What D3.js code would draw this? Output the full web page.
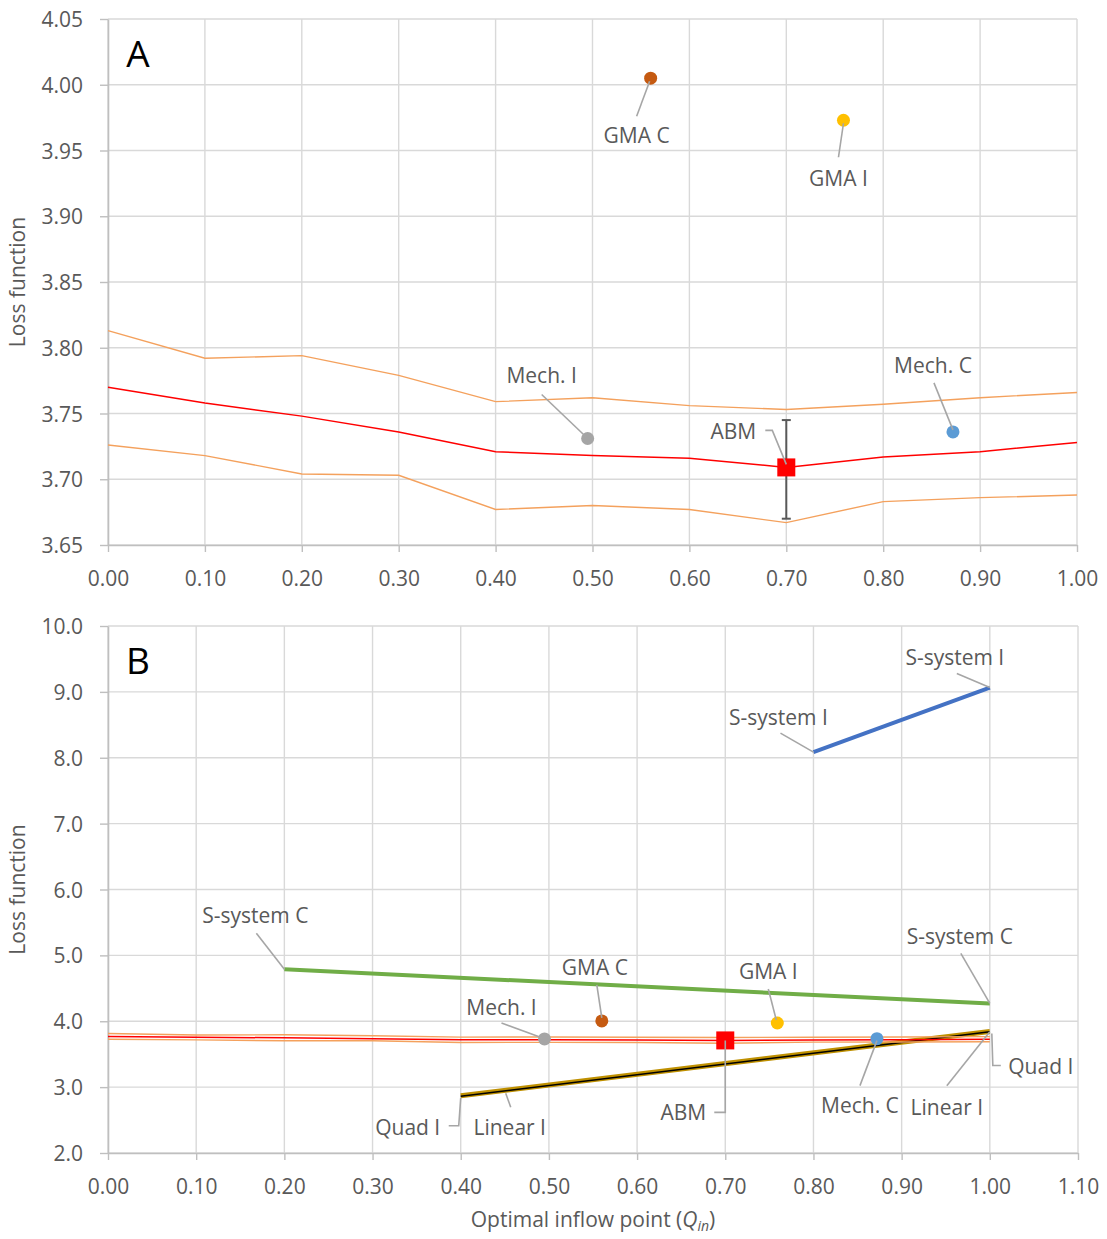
<!DOCTYPE html>
<html>
<head>
<meta charset="utf-8">
<script src="https://cdn.jsdelivr.net/npm/d3@7"></script>
<style>
  body { margin: 0; background: #fff; }
  svg text { font-family: "Open Sans", "Noto Sans", sans-serif; }
</style>
</head>
<body>
<div id="chart"></div>
<script>
/*******************************/
/*          The data           */
/*******************************/
// Inflow points along the x axis
const qPoints = [0.0, 0.1, 0.2, 0.3, 0.4, 0.5, 0.6, 0.7, 0.8, 0.9, 1.0];
// ABM loss (mean) and the upper / lower band
const lossMean  = [3.770, 3.758, 3.748, 3.736, 3.721, 3.718, 3.716, 3.709, 3.717, 3.721, 3.728];
const lossUpper = [3.813, 3.792, 3.794, 3.779, 3.759, 3.762, 3.756, 3.753, 3.757, 3.762, 3.766];
const lossLower = [3.726, 3.718, 3.704, 3.703, 3.677, 3.680, 3.677, 3.667, 3.683, 3.686, 3.688];

// ABM optimum with its error bar
const abmQ = 0.70;
const abmLoss = 3.709;
const abmErr = [3.670, 3.745];

// Single-point models
const modelNames = ["GMA C", "GMA I", "Mech. I", "Mech. C"];
const modelQ     = [0.560, 0.759, 0.495, 0.872];
const modelLoss  = [4.005, 3.973, 3.731, 3.736];

// Models shown as a segment in panel B
const segNames = ["S-system I", "S-system C", "Quad I", "Linear I"];
const segQ     = [[0.8, 1.0], [0.2, 1.0], [0.4, 1.0], [0.4, 1.0]];
const segLoss  = [[8.085, 9.065], [4.79, 4.27], [2.87, 3.845], [2.86, 3.84]];

// Tick values
const ticksYA = [3.65, 3.70, 3.75, 3.80, 3.85, 3.90, 3.95, 4.00, 4.05];
const ticksXA = [0.0, 0.1, 0.2, 0.3, 0.4, 0.5, 0.6, 0.7, 0.8, 0.9, 1.0];
const ticksYB = [2, 3, 4, 5, 6, 7, 8, 9, 10];
const ticksXB = [0.0, 0.1, 0.2, 0.3, 0.4, 0.5, 0.6, 0.7, 0.8, 0.9, 1.0, 1.1];


/*******************************/
/*    Declare the constants    */
/*******************************/
const width = 1107;
const height = 1239;
const gridColor = "#d9d9d9";
const axisColor = "#bfbfbf";
const textColor = "#595959";
const leaderColor = "#a6a6a6";
const redLine = "#ff0000";
const orangeLine = "#f4a15d";
const modelColors = {"GMA C": "#c55a11", "GMA I": "#ffc000", "Mech. I": "#a5a5a5", "Mech. C": "#5b9bd5"};
const segStyles = {
  "S-system I": {color: "#4472c4", w: 4},
  "S-system C": {color: "#70ad47", w: 4},
  "Quad I":     {color: "#bf9000", w: 5},
  "Linear I":   {color: "#000000", w: 1.5}
};

// Label placement: offset of the text centre and the leader path, in px from the point
const labelsA = [
  {key: "GMA C",   text: [-14, 57],  path: [[-14, 38], [-1, 3]]},
  {key: "GMA I",   text: [-5, 58],   path: [[-5, 37], [0, 3]]},
  {key: "Mech. I", text: [-46, -63], path: [[-46, -44], [-2, -2]]},
  {key: "Mech. C", text: [-20, -66], path: [[-19, -49], [0, -2]]},
  {key: "ABM",     text: [-53, -36], path: [[-21, -37], [-14, -37], [0, -3]]}
];
const labelsB = [
  {key: "GMA C",   text: [-7, -53],  path: [[-5, -36], [0, -3]]},
  {key: "GMA I",   text: [-9, -52],  path: [[-9, -34], [-1, -3]]},
  {key: "Mech. I", text: [-43, -32], path: [[-43, -16], [-2, -1]]},
  {key: "Mech. C", text: [-17, 67],  path: [[-17, 47], [0, 2]]},
  {key: "ABM",     text: [-42, 72],  path: [[-11, 72], [0, 72], [0, 0]]}
];
// end: 0 = first point of the segment, 1 = last point
const segLabels = [
  {key: "S-system I", end: 0, text: [-35, -35], path: [[-33, -19], [0, 0]]},
  {key: "S-system I", end: 1, text: [-35, -30], path: [[-33, -14], [0, 0]]},
  {key: "S-system C", end: 0, text: [-29, -54], path: [[-28, -36], [0, 0]]},
  {key: "S-system C", end: 1, text: [-30, -67], path: [[-29, -50], [0, 0]]},
  {key: "Quad I",     end: 0, text: [-53, 32],  path: [[-12, 30], [-2, 30], [0, 2]]},
  {key: "Linear I",   end: 0, text: [49, 31],   path: [[50, 11], [45, -3]]},
  {key: "Linear I",   end: 1, text: [-43, 76],  path: [[-43, 54], [0, 0]]},
  {key: "Quad I",     end: 1, text: [51, 35],   path: [[11, 34], [3, 34], [2, 2]]}
];


/*******************************/
/*    Append the containers    */
/*******************************/
const svg = d3.select("#chart")
  .append("svg")
    .attr("width", width)
    .attr("height", height)
    .attr("viewBox", `0, 0, ${width}, ${height}`);


/*******************************/
/*      Panel helpers          */
/*******************************/
const drawFrame = (x, y, xTicks, yTicks, yFmt, letter) => {
  const [x0, x1] = x.range();
  const [y0, y1] = y.range();

  // Grid
  svg.append("g")
    .selectAll("line")
    .data(xTicks)
    .join("line")
      .attr("x1", d => x(d)).attr("x2", d => x(d))
      .attr("y1", y1).attr("y2", y0)
      .attr("stroke", gridColor).attr("stroke-width", 1.4);
  svg.append("g")
    .selectAll("line")
    .data(yTicks)
    .join("line")
      .attr("x1", x0).attr("x2", x1)
      .attr("y1", d => y(d)).attr("y2", d => y(d))
      .attr("stroke", gridColor).attr("stroke-width", 1.4);

  // Axes
  const bottomAxis = d3.axisBottom(x)
    .tickValues(xTicks)
    .tickFormat(d3.format(".2f"))
    .tickSize(7)
    .tickSizeOuter(0);
  const gx = svg.append("g")
    .attr("transform", `translate(0, ${y0})`)
    .call(bottomAxis);
  gx.select(".domain").attr("stroke", axisColor).attr("stroke-width", 1.6);
  gx.selectAll(".tick line").attr("stroke", axisColor).attr("stroke-width", 1.4);
  gx.selectAll(".tick text")
    .attr("y", 41).attr("dy", 0)
    .attr("fill", textColor)
    .style("font-size", "21px");

  const leftAxis = d3.axisLeft(y)
    .tickValues(yTicks)
    .tickFormat(d3.format(yFmt))
    .tickSize(8)
    .tickPadding(17)
    .tickSizeOuter(0);
  const gy = svg.append("g")
    .attr("transform", `translate(${x0}, 0)`)
    .call(leftAxis);
  gy.select(".domain").attr("stroke", axisColor).attr("stroke-width", 1.6);
  gy.selectAll(".tick line").attr("stroke", axisColor).attr("stroke-width", 1.4);
  gy.selectAll(".tick text")
    .attr("dy", "0.36em")
    .attr("fill", textColor)
    .style("font-size", "21px");

  // Y title
  svg.append("text")
    .text("Loss function")
    .attr("transform", `translate(25, ${(y0 + y1) / 2}) rotate(-90)`)
    .attr("text-anchor", "middle")
    .attr("fill", textColor)
    .style("font-size", "21px");

  // Panel letter
  svg.append("text")
    .text(letter)
    .attr("x", x0 + 30)
    .attr("y", y1 + 48)
    .attr("text-anchor", "middle")
    .attr("fill", "#000")
    .style("font-size", "37px");
};

const drawLabel = (px, py, lab, name) => {
  const pts = [[px + lab.path[0][0], py + lab.path[0][1]]];
  lab.path.slice(1).forEach(p => pts.push([px + p[0], py + p[1]]));
  svg.append("path")
    .attr("d", d3.line()(pts))
    .attr("fill", "none")
    .attr("stroke", leaderColor)
    .attr("stroke-width", 1.6);
  svg.append("text")
    .text(name)
    .attr("x", px + lab.text[0])
    .attr("y", py + lab.text[1])
    .attr("dy", "0.36em")
    .attr("text-anchor", "middle")
    .attr("fill", textColor)
    .style("font-size", "21px");
};

const drawAbmSeries = (x, y, labels, capW) => {
  const line = d3.line().x((d, i) => x(qPoints[i])).y(d => y(d));
  [[lossUpper, orangeLine, 1.4], [lossLower, orangeLine, 1.4], [lossMean, redLine, 1.5]]
    .forEach(([vals, col, w]) => {
      svg.append("path")
        .datum(vals)
        .attr("d", line)
        .attr("fill", "none")
        .attr("stroke", col)
        .attr("stroke-width", w);
    });

  // Error bar
  const ex = x(abmQ);
  const eb = svg.append("g").attr("stroke", "#595959").attr("stroke-width", 2);
  eb.append("line").attr("x1", ex).attr("x2", ex).attr("y1", y(abmErr[0])).attr("y2", y(abmErr[1]));
  abmErr.forEach(v => {
    eb.append("line").attr("x1", ex - capW).attr("x2", ex + capW).attr("y1", y(v)).attr("y2", y(v));
  });

  // Model points
  modelNames.forEach((name, i) => {
    svg.append("circle")
      .attr("cx", x(modelQ[i]))
      .attr("cy", y(modelLoss[i]))
      .attr("r", 6.5)
      .attr("fill", modelColors[name]);
  });

  // ABM marker
  svg.append("rect")
    .attr("x", x(abmQ) - 9)
    .attr("y", y(abmLoss) - 9)
    .attr("width", 18)
    .attr("height", 18)
    .attr("fill", redLine);

  // Labels
  labels.forEach(lab => {
    if (lab.key === "ABM") {
      drawLabel(x(abmQ), y(abmLoss), lab, "ABM");
    } else {
      const i = modelNames.indexOf(lab.key);
      drawLabel(x(modelQ[i]), y(modelLoss[i]), lab, lab.key);
    }
  });
};


/*******************************/
/*          Panel A            */
/*******************************/
const xA = d3.scaleLinear().domain([0, 1.0]).range([108, 1077]);
const yA = d3.scaleLinear().domain([3.65, 4.05]).range([545, 19]);
drawFrame(xA, yA, ticksXA, ticksYA, ".2f", "A");
drawAbmSeries(xA, yA, labelsA, 4.5);


/*******************************/
/*          Panel B            */
/*******************************/
const xB = d3.scaleLinear().domain([0, 1.1]).range([108, 1078]);
const yB = d3.scaleLinear().domain([2, 10]).range([1153, 626]);
drawFrame(xB, yB, ticksXB, ticksYB, ".1f", "B");

// Segments
segNames.forEach((name, i) => {
  svg.append("line")
    .attr("x1", xB(segQ[i][0])).attr("y1", yB(segLoss[i][0]))
    .attr("x2", xB(segQ[i][1])).attr("y2", yB(segLoss[i][1]))
    .attr("stroke", segStyles[name].color)
    .attr("stroke-width", segStyles[name].w);
});

drawAbmSeries(xB, yB, labelsB, 4.5);

segLabels.forEach(lab => {
  const i = segNames.indexOf(lab.key);
  drawLabel(xB(segQ[i][lab.end]), yB(segLoss[i][lab.end]), lab, lab.key);
});

// X title
const xTitle = svg.append("text")
  .attr("x", (108 + 1078) / 2)
  .attr("y", 1227)
  .attr("text-anchor", "middle")
  .attr("fill", textColor)
  .style("font-size", "21px");
xTitle.append("tspan").text("Optimal inflow point (");
xTitle.append("tspan").text("Q").style("font-style", "italic");
xTitle.append("tspan").text("in").style("font-style", "italic").style("font-size", "14px").attr("dy", 4);
xTitle.append("tspan").text(")").attr("dy", -4);
</script>
</body>
</html>
